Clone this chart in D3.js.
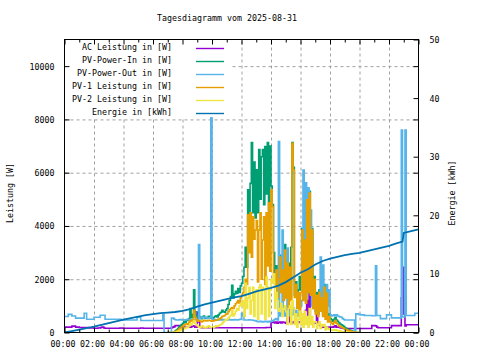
<!DOCTYPE html>
<html><head><meta charset="utf-8">
<script src="https://cdn.jsdelivr.net/npm/d3@7/dist/d3.min.js"></script>
<style>
body{margin:0;background:#fff}
svg text{font-family:"DejaVu Sans Mono",monospace;font-size:8.3px;fill:#000}
</style></head><body>
<svg id="c" width="480" height="360"></svg>
<script>
const title = "Tagesdiagramm vom 2025-08-31";
const yLabel = "Leistung [W]";
const y2Label = "Energie [kWh]";
const seriesNames = ["AC Leistung in [W]","PV-Power-In in [W]","PV-Power-Out in [W]","PV-1 Leistung in [W]","PV-2 Leistung in [W]","Energie in [kWh]"];
const seriesColors = ["#9400d3","#009e73","#56b4e9","#e69f00","#f0e442","#0072b2"];
const xTickTimes = ["00:00","02:00","04:00","06:00","08:00","10:00","12:00","14:00","16:00","18:00","20:00","22:00","24:00"];
const xTickLabels = ["00:00","02:00","04:00","06:00","08:00","10:00","12:00","14:00","16:00","18:00","20:00","22:00","00:00"];
const xMinorTimes = ["01:00","03:00","05:00","07:00","09:00","11:00","13:00","15:00","17:00","19:00","21:00","23:00"];
const yTicks = [0,2000,4000,6000,8000,10000];
const y2Ticks = [0,10,20,30,40,50];
const stepMinutes = 5;
const acStart = "00:00";
const pvStart = "07:00";

// AC Leistung, 00:00..24:00 every 5 min
const acPower = [
200,200,200,200,200,200,240,240,240,200,200,200,
190,190,190,190,190,190,190,190,170,170,170,170,
160,160,160,170,170,180,200,200,170,160,160,160,
160,160,160,160,160,160,160,160,160,170,170,160,
160,160,160,160,160,160,160,160,160,160,160,160,
160,160,170,170,160,160,160,160,160,160,160,160,
160,160,160,160,160,160,160,160,160,160,160,160,
160,160,160,180,200,220,260,260,260,260,230,230,
230,220,200,200,200,200,200,220,250,240,200,200,
770,400,200,180,180,180,180,180,180,180,180,180,
180,180,180,180,180,180,180,180,180,180,180,180,
180,180,180,180,180,180,180,180,180,180,180,180,
180,180,180,180,180,180,180,180,180,180,180,180,
180,180,180,180,180,180,180,180,190,190,190,190,
390,380,390,360,390,350,380,390,360,390,380,370,
350,1020,940,400,350,380,400,350,380,380,400,380,
380,400,380,400,830,1200,380,1580,400,380,360,350,
350,1300,400,300,250,220,200,200,200,200,200,200,
200,200,200,220,250,200,200,200,180,170,160,150,
150,150,150,150,150,150,150,150,150,150,150,150,
150,150,150,150,150,150,150,150,150,150,260,260,
260,250,200,180,180,180,180,180,180,180,180,180,
180,180,260,260,260,260,260,260,260,260,1300,2450,
700,250,290,290,290,290,290,290,290,290,290,290,
290];

// PV-Power-Out, 00:00..24:00 every 5 min
const pvOut = [
600,600,600,680,680,680,620,620,620,540,540,540,
540,540,540,540,720,720,500,500,500,500,500,500,
570,570,570,570,570,650,650,650,650,500,500,500,
500,500,500,500,500,500,500,500,500,500,470,470,
470,470,470,470,470,470,470,470,470,470,470,570,
570,570,450,450,450,450,450,450,450,450,450,450,
450,450,450,450,450,450,450,450,670,0,0,0,
0,0,0,540,540,500,480,470,470,480,490,470,
470,480,470,490,500,470,480,490,470,480,470,480,
500,3300,550,560,580,550,560,570,550,540,550,12000,
500,490,480,470,480,490,470,480,470,490,480,470,
470,480,490,470,480,470,490,480,470,480,490,500,
720,620,470,470,470,470,480,470,470,460,450,440,
420,410,410,420,410,400,410,420,410,400,420,410,
420,440,470,500,520,470,7170,620,720,3850,820,620,
720,3170,820,620,720,670,920,720,820,620,720,920,
1000,1200,6100,3000,5620,2000,5430,1500,4600,1000,1200,900,
1100,1300,900,1200,2830,1000,2530,900,1200,1800,1000,1600,
660,620,640,660,620,660,620,600,580,570,520,490,
470,470,470,470,470,470,470,470,0,700,700,680,
670,660,660,660,640,640,640,640,640,640,630,630,
630,2500,640,640,640,520,520,520,520,520,660,660,
660,660,550,550,550,550,550,550,550,550,7600,580,
580,7600,640,640,640,640,640,640,640,720,720,720,
720];

// PV arrays, 07:00..20:00 every 5 min
const pvIn = [
0,0,0,0,0,20,60,100,150,200,250,300,
350,420,380,480,450,520,900,560,680,1600,780,620,
560,600,580,520,580,620,540,530,570,610,590,540,
530,560,600,630,580,660,720,760,830,780,760,840,
900,1050,1200,1350,1770,1300,1450,1550,1470,1650,1500,1750,
1850,2100,2450,3200,2450,5360,4340,5600,7130,4500,6400,4300,
6110,4500,6870,5000,6600,6870,4800,6980,5200,7130,4600,7000,
5500,4800,3000,1800,2500,1500,2300,2900,2600,2400,3000,3300,
2200,2700,2600,1900,3200,7130,6200,1400,1900,1300,1600,2100,
1600,3900,1300,3500,1200,5000,1600,5300,1500,3900,1000,2100,
800,1500,700,1600,900,1400,700,1800,600,1550,500,700,
520,480,420,500,560,470,420,360,320,290,260,220,
180,150,120,100,80,60,45,30,15,0,0,0,
0];
const pv1 = [
0,0,0,0,0,10,40,60,90,130,170,200,
240,280,300,330,300,380,450,420,480,830,560,480,
420,450,430,400,420,460,440,430,440,460,450,430,
420,440,450,470,460,500,520,550,600,620,640,690,
700,780,850,900,940,900,1000,1080,1130,1200,1100,1300,
1400,1500,1700,2000,1800,4420,3000,4490,2830,4340,3500,3850,
4200,1900,3850,4490,2000,3470,4340,1800,4490,2500,4870,2300,
5360,4720,1900,1700,2340,1320,2000,2830,1500,2340,1200,3100,
1300,2600,900,2450,1200,7100,6110,1320,1800,900,1500,600,
1500,3850,1200,3470,1100,4980,1500,5240,1400,3850,900,2000,
700,1400,600,1500,800,1300,600,1700,500,1470,400,600,
400,350,300,380,450,350,300,250,220,200,180,150,
120,100,80,60,50,40,30,20,10,0,0,0,
0];
const pv2 = [
0,0,0,0,0,5,15,30,45,60,80,100,
120,150,170,200,180,250,330,280,380,450,350,300,
250,200,180,220,250,200,180,190,220,250,200,190,
180,200,220,250,230,260,280,300,350,400,450,500,
480,550,600,650,830,620,700,800,900,850,1000,1100,
1000,1200,600,1850,900,1300,1700,700,1200,1700,600,1500,
1600,500,1700,1800,700,1700,1600,500,2080,1700,600,1600,
2000,1850,2200,900,1500,1200,800,900,1100,600,900,1000,
800,300,900,1000,300,1200,900,300,700,200,500,800,
300,700,200,800,300,600,200,900,300,600,200,400,
400,150,300,400,150,300,250,300,100,200,150,120,
100,90,80,90,100,80,70,60,50,40,30,25,
20,15,10,8,5,3,0,0,0,0,0,0,
0];

// Energie in kWh
const energyTimes = ["00:00","00:30","01:00","01:30","02:00","02:30","03:00","03:30","04:00","04:30","05:00","05:30","06:00","06:30","07:00","07:30","08:00","08:30","09:00","09:30","10:00","10:30","11:00","11:30","12:00","12:30","13:00","13:30","14:00","14:30","15:00","15:30","16:00","16:30","17:00","17:30","18:00","18:30","19:00","19:30","20:00","20:30","21:00","21:30","22:00","22:30","22:55","23:00","23:30","24:00"];
const energyValues = [0,0.25,0.5,0.75,1.0,1.3,1.6,1.9,2.2,2.45,2.7,2.95,3.15,3.3,3.4,3.5,3.7,4.0,4.4,4.8,5.1,5.4,5.7,6.0,6.2,6.6,7.0,7.3,7.6,8.0,8.6,9.4,10.2,10.8,11.6,12.2,12.6,12.9,13.2,13.4,13.6,13.9,14.2,14.5,14.8,15.2,15.5,17.0,17.3,17.6];

const toMin = s => { const [h,m] = s.split(":").map(Number); return h*60+m; };
const svg = d3.select("#c");
const L=64.5, R=418.5, T=39.5, B=332.5;
const x = d3.scaleLinear().domain([0,1440]).range([L,R]);
const y = d3.scaleLinear().domain([0,11000]).range([B,T]);
const y2 = d3.scaleLinear().domain([0,50]).range([B,T]);

svg.append("rect").attr("width",480).attr("height",360).attr("fill","#fff");

// grid via axes
const gridStyle = g => { g.select(".domain").remove(); g.selectAll("line").attr("stroke","#a0a0a0").attr("stroke-dasharray","3,3"); g.selectAll("text").remove(); };
svg.append("g").attr("transform",`translate(0,${B})`)
  .call(d3.axisBottom(x).tickValues(xTickTimes.slice(1,-1).map(toMin)).tickSize(-(B-T)).tickFormat(""))
  .call(gridStyle);
svg.append("g").attr("transform",`translate(${L},0)`)
  .call(d3.axisLeft(y).tickValues(yTicks.slice(1)).tickSize(-(R-L)).tickFormat(""))
  .call(gridStyle);

// series
svg.append("clipPath").attr("id","clip").append("rect").attr("x",L).attr("y",T).attr("width",R-L).attr("height",B-T);
const plot = svg.append("g").attr("clip-path","url(#clip)");
const mk = (vals,start) => vals.map((v,i)=>({t: toMin(start)+i*stepMinutes, v}));
const stepLine = d3.line().x(d=>x(d.t)).y(d=>y(d.v)).curve(d3.curveStepAfter);
const powerSeries = [mk(acPower,acStart), mk(pvIn,pvStart), mk(pvOut,acStart), mk(pv1,pvStart), mk(pv2,pvStart)];
powerSeries.forEach((s,i)=>{
  plot.append("path").datum(s).attr("d",stepLine).attr("fill","none")
    .attr("stroke",seriesColors[i]).attr("stroke-width",1.6);
});
const energy = energyTimes.map((t,i)=>({t: toMin(t), v: energyValues[i]}));
plot.append("path").datum(energy)
  .attr("d", d3.line().x(d=>x(d.t)).y(d=>y2(d.v)))
  .attr("fill","none").attr("stroke",seriesColors[5]).attr("stroke-width",1.8);

// opaque key
const key = svg.append("g");
key.append("rect").attr("x",L+0.5).attr("y",T+0.5).attr("width",166).attr("height",77).attr("fill","#fff");

// border
svg.append("rect").attr("x",L).attr("y",T).attr("width",R-L).attr("height",B-T)
  .attr("fill","none").attr("stroke","#000").attr("stroke-width",1);

const tickStyle = g => { g.select(".domain").remove(); g.selectAll("line").attr("stroke","#000"); };
// bottom axis
svg.append("g").attr("transform",`translate(0,${B})`)
  .call(d3.axisBottom(x).tickValues(xTickTimes.map(toMin)).tickSizeInner(-5).tickSizeOuter(0)
    .tickFormat((d,i)=>xTickLabels[i]))
  .call(tickStyle)
  .call(g=>g.selectAll("text").attr("y",11.5).attr("dy","0.35em").attr("dx",-2).style("font-size","8.3px").style("font-family","DejaVu Sans Mono"));
svg.append("g").attr("transform",`translate(0,${B})`)
  .call(d3.axisBottom(x).tickValues(xMinorTimes.map(toMin)).tickSizeInner(-3).tickSizeOuter(0).tickFormat(""))
  .call(tickStyle);
// top mirror
svg.append("g").attr("transform",`translate(0,${T})`)
  .call(d3.axisTop(x).tickValues(xTickTimes.map(toMin)).tickSizeInner(-5).tickSizeOuter(0).tickFormat(""))
  .call(tickStyle);
svg.append("g").attr("transform",`translate(0,${T})`)
  .call(d3.axisTop(x).tickValues(xMinorTimes.map(toMin)).tickSizeInner(-3).tickSizeOuter(0).tickFormat(""))
  .call(tickStyle);
// left axis
svg.append("g").attr("transform",`translate(${L},0)`)
  .call(d3.axisLeft(y).tickValues(yTicks).tickSizeInner(-5).tickSizeOuter(0).tickPadding(10).tickFormat(d3.format("d")))
  .call(tickStyle)
  .call(g=>g.selectAll("text").style("font-size","8.3px").style("font-family","DejaVu Sans Mono").attr("dy","0.35em"));
// right: y mirror ticks + y2 axis
svg.append("g").attr("transform",`translate(${R},0)`)
  .call(d3.axisRight(y).tickValues(yTicks).tickSizeInner(-5).tickSizeOuter(0).tickFormat(""))
  .call(tickStyle);
svg.append("g").attr("transform",`translate(${R},0)`)
  .call(d3.axisRight(y2).tickValues(y2Ticks).tickSizeInner(-5).tickSizeOuter(0).tickPadding(11).tickFormat(d3.format("d")))
  .call(tickStyle)
  .call(g=>g.selectAll("text").style("font-size","8.3px").style("font-family","DejaVu Sans Mono").attr("dy","0.35em"));

// labels
svg.append("text").attr("x",227).attr("y",18).attr("text-anchor","middle").attr("dominant-baseline","middle").text(title);
svg.append("text").attr("transform","translate(10,193) rotate(-90)").attr("text-anchor","middle").attr("dominant-baseline","middle").text(yLabel);
svg.append("text").attr("transform","translate(452,193) rotate(-90)").attr("text-anchor","middle").attr("dominant-baseline","middle").text(y2Label);

// key entries
seriesNames.forEach((n,i)=>{
  const ry = 47 + i*13;
  key.append("text").attr("x",172).attr("y",ry).attr("text-anchor","end").attr("dominant-baseline","middle").text(n);
  key.append("line").attr("x1",196).attr("x2",224).attr("y1",ry+1.5).attr("y2",ry+1.5)
    .attr("stroke",seriesColors[i]).attr("stroke-width",1.4);
});
</script></body></html>
